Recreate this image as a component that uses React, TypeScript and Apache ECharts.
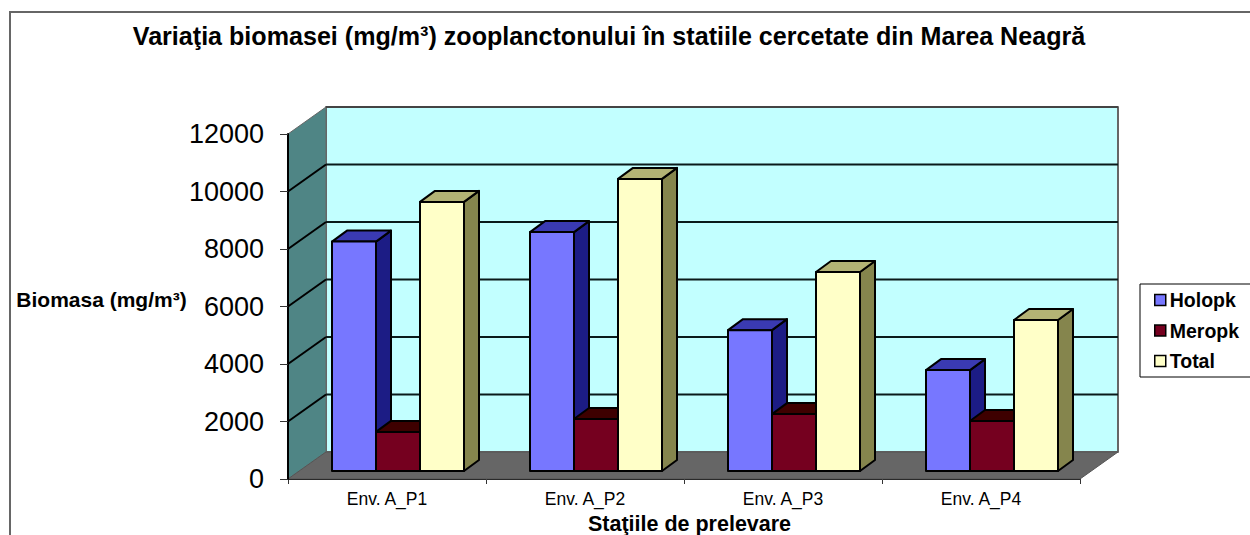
import React, { useEffect, useRef } from "react";
import * as echarts from "echarts";

const categories = ["Env. A_P1", "Env. A_P2", "Env. A_P3", "Env. A_P4"];
const holopk = [7980, 8310, 4900, 3510];
const meropk = [1360, 1810, 1980, 1740];
const total = [9360, 10160, 6920, 5250];
const yTicks = [0, 2000, 4000, 6000, 8000, 10000, 12000];

const TITLE = "Variaţia biomasei (mg/m³) zooplanctonului în statiile cercetate din Marea Neagră";
const Y_NAME = "Biomasa (mg/m³)";
const X_NAME = "Staţiile de prelevare";
const FONT = "'Liberation Sans', Arial, sans-serif";

// 3D projection constants (pixels)
const WALL_DX = 38;
const WALL_DY = -27;
const BAR_SHIFT_X = 11;
const BAR_SHIFT_Y = -8;
const BAR_W = 44;
const BAR_DX = 15;
const BAR_DY = -11;

const palette = {
  Holopk: { front: "#7777FF", top: "#3A3AB2", side: "#1C1C85" },
  Meropk: { front: "#75001F", top: "#3E0000", side: "#3E0010" },
  Total: { front: "#FFFFC8", top: "#B3B375", side: "#85854D" },
};

function poly(points: number[][], fill: string, stroke = "#000", lineWidth = 2) {
  return {
    type: "polygon",
    shape: { points },
    style: { fill, stroke, lineWidth, lineJoin: "round" },
  };
}

function line(a: number[], b: number[], stroke: string, lineWidth = 2) {
  return {
    type: "line",
    shape: { x1: a[0], y1: a[1], x2: b[0], y2: b[1] },
    style: { stroke, lineWidth, fill: "none" },
  };
}

function wallsRender(_params: any, api: any) {
  const halfBand = api.size([1, 0])[0] / 2;
  const c0 = api.coord([0, 0]);
  const c1 = api.coord([categories.length - 1, 0]);
  const topY = api.coord([0, yTicks[yTicks.length - 1]])[1];
  const xL = c0[0] - halfBand;
  const xR = c1[0] + halfBand;
  const yB = c0[1];
  const children: any[] = [];
  // back wall
  children.push(
    poly(
      [
        [xL + WALL_DX, topY + WALL_DY],
        [xR + WALL_DX, topY + WALL_DY],
        [xR + WALL_DX, yB + WALL_DY],
        [xL + WALL_DX, yB + WALL_DY],
      ],
      "#C2FFFF",
      "#666",
      2
    )
  );
  // side wall
  children.push(
    poly(
      [
        [xL, topY],
        [xL + WALL_DX, topY + WALL_DY],
        [xL + WALL_DX, yB + WALL_DY],
        [xL, yB],
      ],
      "#4F8585",
      "#666",
      1
    )
  );
  // floor
  children.push(
    poly(
      [
        [xL, yB],
        [xR, yB],
        [xR + WALL_DX, yB + WALL_DY],
        [xL + WALL_DX, yB + WALL_DY],
      ],
      "#666666",
      "#555",
      1
    )
  );
  // gridlines
  yTicks.slice(1).forEach((t, i) => {
    const y = api.coord([0, t])[1];
    const isTop = i === yTicks.length - 2;
    if (!isTop) {
      children.push(line([xL + WALL_DX, y + WALL_DY], [xR + WALL_DX, y + WALL_DY], "#0A1A1A", 2));
      children.push(line([xL, y], [xL + WALL_DX, y + WALL_DY], "#000", 2));
    }
  });
  children.push(line([xL + WALL_DX, topY + WALL_DY], [xR + WALL_DX, topY + WALL_DY], "#444", 2));
  return { type: "group", children };
}

function barRender(index: number, key: keyof typeof palette) {
  return (_params: any, api: any) => {
    const c = api.coord([api.value(0), api.value(1)]);
    const base = api.coord([api.value(0), 0]);
    const x0 = c[0] + BAR_SHIFT_X - (3 * BAR_W) / 2 + index * BAR_W;
    const x1 = x0 + BAR_W;
    const yT = c[1] + BAR_SHIFT_Y;
    const yB = base[1] + BAR_SHIFT_Y;
    const col = palette[key];
    return {
      type: "group",
      children: [
        poly(
          [
            [x1, yT],
            [x1 + BAR_DX, yT + BAR_DY],
            [x1 + BAR_DX, yB + BAR_DY],
            [x1, yB],
          ],
          col.side
        ),
        poly(
          [
            [x0, yT],
            [x0 + BAR_DX, yT + BAR_DY],
            [x1 + BAR_DX, yT + BAR_DY],
            [x1, yT],
          ],
          col.top
        ),
        poly(
          [
            [x0, yT],
            [x1, yT],
            [x1, yB],
            [x0, yB],
          ],
          col.front
        ),
      ],
    };
  };
}

function barSeries(name: keyof typeof palette, index: number, values: number[]) {
  return {
    type: "custom",
    name,
    coordinateSystem: "cartesian2d",
    clip: false,
    z: 3,
    itemStyle: { color: palette[name].front },
    encode: { x: 0, y: 1 },
    data: values.map((v, i) => [i, v]),
    renderItem: barRender(index, name),
  };
}

export default function App() {
  const ref = useRef<HTMLDivElement>(null);
  useEffect(() => {
    document.body.style.margin = "0";
    const chart = echarts.init(ref.current!, undefined, { renderer: "svg" });
    const legendItem = (name: keyof typeof palette) => ({
      name,
      icon: "rect",
      itemStyle: { color: palette[name].front, borderColor: "#000", borderWidth: 1.5 },
    });
    chart.setOption({
      animation: false,
      backgroundColor: "#fff",
      textStyle: { fontFamily: FONT },
      title: {
        text: TITLE,
        left: 604,
        top: 18,
        textAlign: "center",
        textStyle: { fontFamily: FONT, fontSize: 25.1, fontWeight: "bold", color: "#000" },
      },
      grid: { left: 288, top: 134, width: 792, height: 345, containLabel: false, outerBoundsMode: "none" },
      legend: {
        left: 1140,
        top: 284,
        orient: "vertical",
        backgroundColor: "#fff",
        borderColor: "#000",
        borderWidth: 1,
        padding: [6, 20, 6, 14],
        itemGap: 10.5,
        itemWidth: 11,
        itemHeight: 11,
        selectedMode: false,
        textStyle: { fontFamily: FONT, fontSize: 19.5, fontWeight: "bold", color: "#000", padding: [0, 0, 0, -1] },
        data: [legendItem("Holopk"), legendItem("Meropk"), legendItem("Total")],
      },
      xAxis: {
        type: "category",
        data: categories,
        boundaryGap: true,
        name: X_NAME,
        nameLocation: "middle",
        nameGap: 33,
        nameTextStyle: { fontFamily: FONT, fontSize: 21.5, fontWeight: "bold", color: "#000", padding: [0, 0, 0, 11] },
        axisLine: { show: true, lineStyle: { color: "#000", width: 2 } },
        axisTick: { show: true, length: 5, alignWithLabel: false, lineStyle: { color: "#333", width: 1 } },
        axisLabel: { fontFamily: FONT, fontSize: 17.5, color: "#000", margin: 11 },
        splitLine: { show: false },
      },
      yAxis: {
        type: "value",
        min: 0,
        max: 12000,
        interval: 2000,
        axisLine: { show: true, onZero: false, lineStyle: { color: "#000", width: 2 } },
        axisTick: { show: true, length: 8, lineStyle: { color: "#333", width: 1 } },
        axisLabel: { fontFamily: FONT, fontSize: 27, color: "#000", margin: 24, formatter: (v: number) => String(v) },
        splitLine: { show: false },
        z: 5,
      },
      graphic: {
        elements: [
          {
            type: "polyline",
            silent: true,
            z: 0,
            shape: { points: [[10, 540], [10, 12], [1255, 12]] },
            style: { stroke: "#666", lineWidth: 2, fill: "none" },
          },
          {
            type: "text",
            silent: true,
            z: 6,
            x: 101.5,
            y: 299,
            style: {
              text: Y_NAME,
              fontFamily: FONT,
              fontSize: 21,
              fontWeight: "bold",
              fill: "#000",
              align: "center",
              verticalAlign: "middle",
            },
          },
        ],
      },
      series: [
        {
          type: "custom",
          name: "walls",
          coordinateSystem: "cartesian2d",
          clip: false,
          z: 1,
          silent: true,
          encode: { x: 0, y: 1 },
          data: [[0, 0]],
          renderItem: wallsRender,
        },
        barSeries("Holopk", 0, holopk),
        barSeries("Meropk", 1, meropk),
        barSeries("Total", 2, total),
      ],
    });
    return () => chart.dispose();
  }, []);
  return <div ref={ref} style={{ position: "absolute", left: 0, top: 0, width: 1250, height: 535, overflow: "hidden" }} />;
}
